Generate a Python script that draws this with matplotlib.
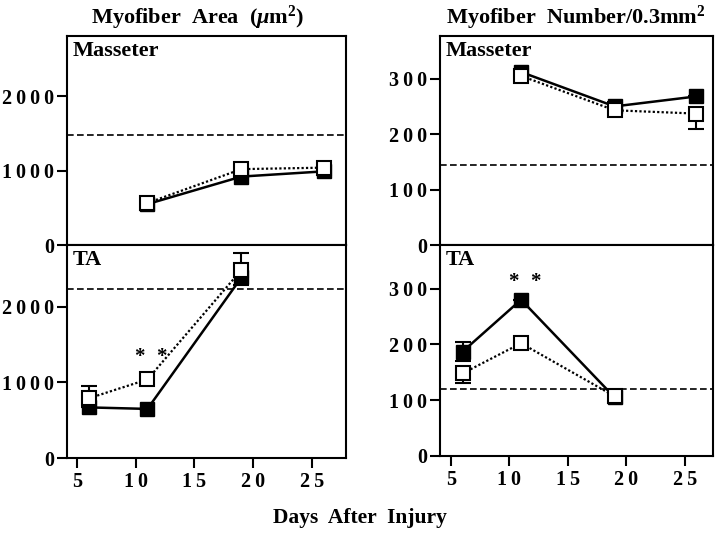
import numpy as np
import matplotlib
matplotlib.use('Agg')
import matplotlib.pyplot as plt
from matplotlib.ticker import FuncFormatter

plt.rcParams['font.family'] = ['Liberation Serif', 'DejaVu Serif']
plt.rcParams['font.weight'] = 'bold'
plt.rcParams['mathtext.fontset'] = 'custom'
plt.rcParams['mathtext.rm'] = 'Liberation Serif:bold'
plt.rcParams['mathtext.it'] = 'Liberation Serif:italic:bold'
plt.rcParams['mathtext.bf'] = 'Liberation Serif:bold'

# ---- data ----
days_mas = [11, 19, 26]
days_ta = [6, 11, 19]

# myofiber area (um^2)
area_mas_black = [550, 920, 990]
area_mas_white = [565, 1020, 1040]
area_mas_black_lo = [0, 0, 50]
area_mas_white_hi = [0, 0, 60]
area_mas_ref = 1480

area_ta_black = [670, 650, 2390]
area_ta_white = [790, 1040, 2490]
area_ta_black_lo = [0, 0, 100]
area_ta_black_hi = [0, 0, 0]
area_ta_white_hi = [160, 0, 225]
area_ta_ref = 2240

# myofiber number / 0.3 mm^2
num_mas_black = [312, 250, 268]
num_mas_white = [305, 243, 237]
num_mas_black_hi = [0, 8, 0]
num_mas_white_lo = [0, 11, 27]
num_mas_ref = 145

num_ta_black = [187, 280, 105]
num_ta_white = [148, 202, 107]
num_ta_black_hi = [18, 0, 0]
num_ta_black_lo = [17, 0, 0]
num_ta_white_lo = [18, 0, 0]
num_ta_ref = 120

star_x = [10.3, 12.2]
area_star_y = 1340
num_star_y = 312


def spaced(v, pos):
    return '\u2009'.join(str(int(v)))


def draw(ax, x, yb, yw, eb, ew, ref):
    ax.errorbar(x, yb, yerr=eb, color='black', lw=1.8, ls='-', marker='s',
                ms=9.5, mfc='black', mec='black', capsize=5.5, elinewidth=1.5,
                capthick=1.5, zorder=3)
    ax.errorbar(x, yw, yerr=ew, color='black', lw=1.6, ls=(0, (1, 1)), marker='s',
                ms=9.5, mfc='white', mec='black', mew=1.5, capsize=5.5,
                elinewidth=1.5, capthick=1.5, zorder=4)
    ax.axhline(ref, color='black', lw=1.2, ls=(0, (4, 2)), zorder=1)


def style(ax, xlim, ylim, yticks, bottom):
    ax.set_xlim(*xlim)
    ax.set_ylim(*ylim)
    ax.set_yticks(yticks)
    ax.yaxis.set_major_formatter(FuncFormatter(spaced))
    ax.tick_params(axis='y', direction='out', length=7, width=1.5, labelsize=14.5, pad=2)
    for s in ax.spines.values():
        s.set_linewidth(1.5)
    if bottom:
        ax.set_xticks([5, 10, 15, 20, 25])
        ax.xaxis.set_major_formatter(FuncFormatter(spaced))
        ax.tick_params(axis='x', direction='out', length=7, width=1.5, labelsize=14.5, pad=3)
    else:
        ax.set_xticks([])


fig = plt.figure(figsize=(7.2, 5.33), dpi=100)

# left column: area
ax1 = fig.add_axes([0.093, 0.5403, 0.3875, 0.3922])
ax2 = fig.add_axes([0.093, 0.1407, 0.3875, 0.3996])
draw(ax1, days_mas, area_mas_black, area_mas_white,
     [area_mas_black_lo, [0, 0, 0]], [[0, 0, 0], area_mas_white_hi], area_mas_ref)
draw(ax2, days_ta, area_ta_black, area_ta_white,
     [area_ta_black_lo, area_ta_black_hi], [[0, 0, 0], area_ta_white_hi], area_ta_ref)
style(ax1, (4.15, 27.9), (0, 2810), [0, 1000, 2000], False)
style(ax2, (4.15, 27.9), (0, 2820), [0, 1000, 2000], True)
for sx in star_x:
    ax2.text(sx, area_star_y, '*', ha='center', va='center', fontsize=15)

# right column: number
ax3 = fig.add_axes([0.611, 0.5403, 0.379, 0.3922])
ax4 = fig.add_axes([0.611, 0.1445, 0.379, 0.3958])
draw(ax3, days_mas, num_mas_black, num_mas_white,
     [[0, 0, 0], num_mas_black_hi], [num_mas_white_lo, [0, 0, 0]], num_mas_ref)
draw(ax4, days_ta, num_ta_black, num_ta_white,
     [num_ta_black_lo, num_ta_black_hi], [num_ta_white_lo, [0, 0, 0]], num_ta_ref)
style(ax3, (4.06, 27.4), (0, 377), [0, 100, 200, 300], False)
style(ax4, (4.06, 27.4), (0, 378), [0, 100, 200, 300], True)
for sx in star_x:
    ax4.text(sx, num_star_y, '*', ha='center', va='center', fontsize=15)

for ax in (ax1, ax3):
    ax.text(0.02, 0.975, 'Masseter', transform=ax.transAxes, ha='left', va='top', fontsize=16)
for ax in (ax2, ax4):
    ax.text(0.02, 0.975, 'TA', transform=ax.transAxes, ha='left', va='top', fontsize=16)

fig.text(0.274, 0.966, r'Myofiber  Area  ($\mu$m$^{2}$)', ha='center', va='center', fontsize=16)
fig.text(0.80, 0.966, r'Myofiber  Number/0.3mm$^{2}$', ha='center', va='center', fontsize=16)
fig.text(0.5, 0.028, 'Days  After  Injury', ha='center', va='center', fontsize=15.5)

fig.savefig('out.png', dpi=100)
